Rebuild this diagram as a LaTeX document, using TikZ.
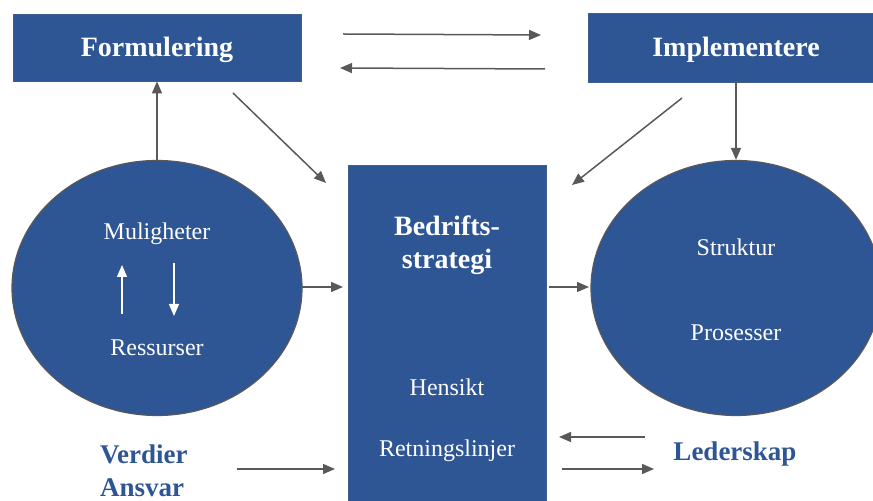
\documentclass[tikz,border=0pt]{standalone}
\usepackage{fontspec}
\setmainfont{Liberation Serif}
\usetikzlibrary{arrows.meta,shapes.geometric}
\definecolor{boxblue}{RGB}{46,85,148}
\definecolor{linegray}{RGB}{89,89,89}
\tikzset{
  box/.style={rectangle, fill=boxblue, draw=boxblue!80!gray, line width=0.4pt, inner sep=0pt},
  oval/.style={ellipse, fill=boxblue, draw=linegray, line width=0.6pt, inner sep=0pt,
    minimum width=145pt, minimum height=127.5pt},
  title/.style={text=white, font=\fontsize{14}{16.5}\selectfont\bfseries, align=center},
  inner/.style={text=white, font=\fontsize{12}{14}\selectfont},
  side/.style={text=boxblue, font=\fontsize{13.5}{16}\selectfont\bfseries},
  flow/.style={draw=linegray, line width=0.75pt, -{Triangle[length=6pt,width=5pt]}},
  wflow/.style={draw=white, line width=0.75pt, -{Triangle[length=6pt,width=5pt]}},
}
\begin{document}
\begin{tikzpicture}[x=0.5pt,y=-0.5pt]
\useasboundingbox (0,0) rectangle (873,501);
\clip (0,0) rectangle (873,501);

% main shapes
\node[box, minimum width=144pt, minimum height=33.5pt] (form) at (157,47.5) {};
\node[box, minimum width=148pt, minimum height=34.5pt] (impl) at (736,47.5) {};
\node[box, minimum width=99pt, minimum height=182.5pt] (strat) at (447,347.5) {};
\node[oval] (left) at (157,288) {};
\node[oval] (right) at (736,288) {};

% labels
\node[title] (formtxt) at (157,50) {Formulering};
\node[title] (impltxt) at (736,50) {Implementere};
\node[title] (strattxt) at (447,245) {Bedrifts-\\strategi};
\node[inner] (mul) at (157,234) {Muligheter};
\node[inner] (res) at (157,348) {Ressurser};
\node[inner] (hen) at (447,387) {Hensikt};
\node[inner] (ret) at (447,451) {Retningslinjer};
\node[inner] (str) at (736,247) {Struktur};
\node[inner] (pro) at (736,333) {Prosesser};
\node[side, anchor=west] (ver) at (93,454) {Verdier};
\node[side, anchor=west] (ans) at (93,488) {Ansvar};
\node[side] (led) at (735,454) {Lederskap};

% free ends of the connectors
\coordinate (a1s) at (343,34);   \coordinate (a1e) at (541,35);
\coordinate (a2s) at (545,69);   \coordinate (a2e) at (340,68);
\coordinate (a3s) at (233,93);   \coordinate (a3e) at (326,183);
\coordinate (a4s) at (682,98);   \coordinate (a4e) at (572,185);
\coordinate (a5s) at (302,287);  \coordinate (a5e) at (343,287);
\coordinate (a6s) at (549,287);  \coordinate (a6e) at (589,287);
\coordinate (a7s) at (237,469);  \coordinate (a7e) at (335,469);
\coordinate (a8s) at (645,437);  \coordinate (a8e) at (559,437);
\coordinate (a9s) at (562,469);  \coordinate (a9e) at (654,469);
\coordinate (u1s) at (122,314);  \coordinate (u1e) at (122,265);
\coordinate (d1s) at (174,263);  \coordinate (d1e) at (174,316);

% connectors
\draw[flow] (a1s) -- (a1e);
\draw[flow] (a2s) -- (a2e);
\draw[flow] (a3s) -- (a3e);
\draw[flow] (a4s) -- (a4e);
\draw[flow] (left.north) -- (form.south);
\draw[flow] (impl.south -| right.north) -- (right.north);
\draw[flow] (a5s) -- (a5e);
\draw[flow] (a6s) -- (a6e);
\draw[flow] (a7s) -- (a7e);
\draw[flow] (a8s) -- (a8e);
\draw[flow] (a9s) -- (a9e);
\draw[wflow] (u1s) -- (u1e);
\draw[wflow] (d1s) -- (d1e);
\end{tikzpicture}
\end{document}
